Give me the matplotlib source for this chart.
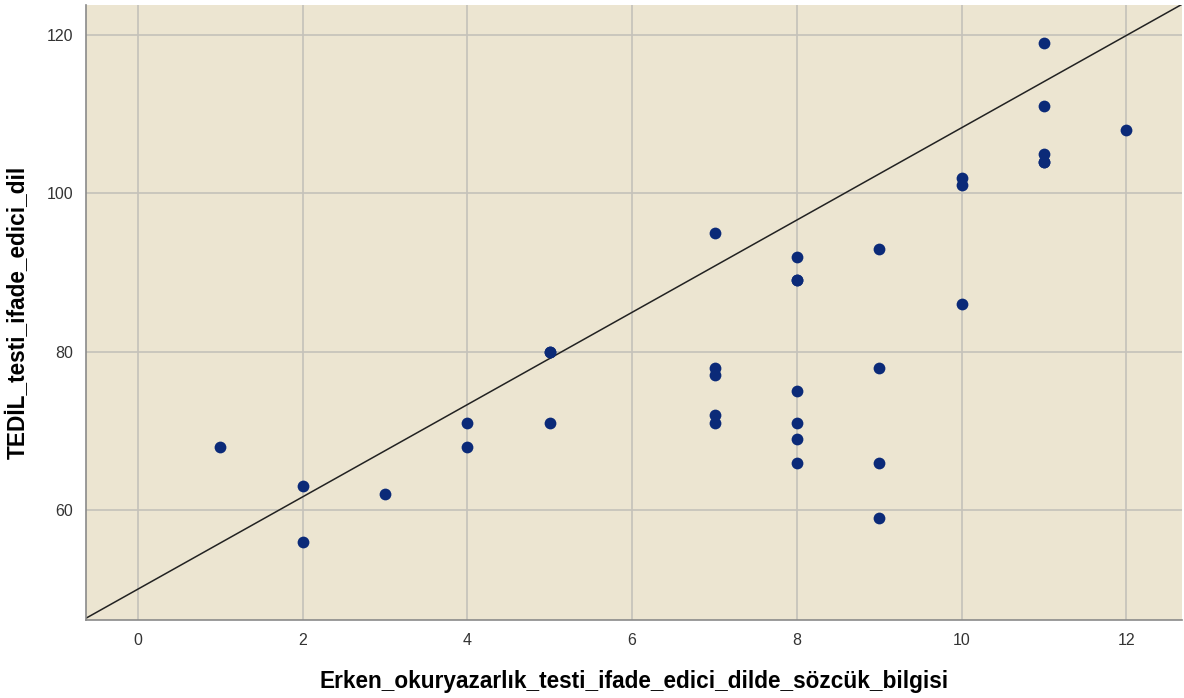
import numpy as np
import matplotlib.pyplot as plt

plt.rcParams['font.family'] = ['Liberation Sans', 'DejaVu Sans']

# Veri: sözcük bilgisi (x) ve TEDİL ifade edici dil (y)
x_vals = [1, 2, 2, 3, 4, 4, 5, 5, 5,
          7, 7, 7, 7, 7,
          8, 8, 8, 8, 8, 8, 8,
          9, 9, 9, 9,
          10, 10, 10,
          11, 11, 11, 11, 11,
          12]
y_vals = [68, 63, 56, 62, 71, 68, 80, 80, 71,
          95, 78, 77, 72, 71,
          92, 89, 89, 75, 71, 69, 66,
          93, 78, 66, 59,
          102, 101, 86,
          119, 111, 105, 104, 104,
          108]

# Referans çizgisi
intercept = 50.0
slope = 5.83

x_ticks = [0, 2, 4, 6, 8, 10, 12]
y_ticks = [60, 80, 100, 120]

fig = plt.figure(figsize=(11.84, 6.98), dpi=100)
ax = fig.add_axes([0.0726, 0.1117, 0.9254, 0.8811])
ax.set_facecolor('#ECE5D1')

ax.set_xlim(-0.63, 12.67)
ax.set_ylim(46.1, 123.8)
ax.set_xticks(x_ticks)
ax.set_yticks(y_ticks)
ax.grid(True, color='#C4C1BA', linewidth=1.2)
ax.set_axisbelow(True)

xs = np.array(ax.get_xlim())
ax.plot(xs, intercept + slope * xs, color='#222222', linewidth=1.1, zorder=2)

ax.scatter(x_vals, y_vals, s=72, color='#0B2A78', zorder=3, linewidths=0)

for side in ['top', 'right']:
    ax.spines[side].set_visible(False)
for side in ['left', 'bottom']:
    ax.spines[side].set_color('#8A8A8A')
    ax.spines[side].set_linewidth(1.2)

ax.tick_params(length=0, labelsize=11.5, colors='#333333', pad=9)
ax.set_xlabel('Erken_okuryazarlık_testi_ifade_edici_dilde_sözcük_bilgisi',
              fontsize=16.3, fontweight='bold', labelpad=16)
ax.set_ylabel('TEDİL_testi_ifade_edici_dil', fontsize=16.3, fontweight='bold', labelpad=12)

fig.savefig('out.png', dpi=100)
